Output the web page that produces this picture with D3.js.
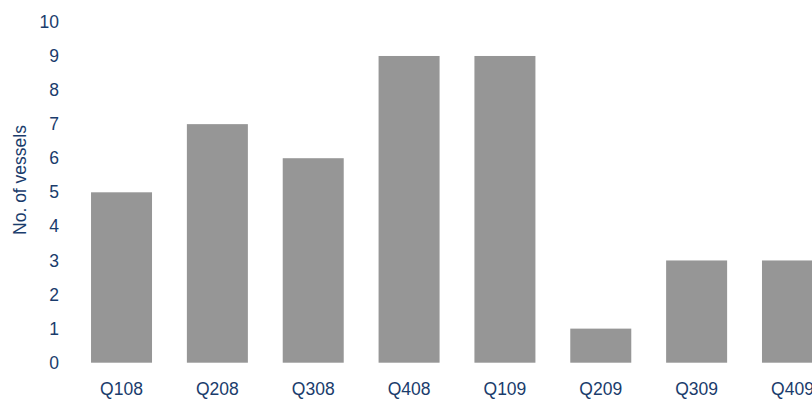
<!DOCTYPE html>
<html>
<head>
<meta charset="utf-8">
<script src="https://cdn.jsdelivr.net/npm/d3@7"></script>
<style>
  body { margin: 0; background: #fff; }
  svg { display: block; }
  text { font-family: "Liberation Sans", Arial, sans-serif; fill: #1a3c6c; }
</style>
</head>
<body>
<svg id="chart" width="812" height="400"></svg>
<script>
// quarters and vessel counts
const quarters = ["Q108", "Q208", "Q308", "Q408", "Q109", "Q209", "Q309", "Q409"];
const vessels = [5, 7, 6, 9, 9, 1, 3, 3];
const yTicks = [0, 1, 2, 3, 4, 5, 6, 7, 8, 9, 10];

const svg = d3.select("#chart");

// the chart runs past the right edge of the window, like the original
var x = d3
  .scaleBand()
  .domain(quarters)
  .range([73.6, 840.4])
  .paddingInner(0.3636)
  .paddingOuter(0.1818);

var y = d3.scaleLinear().domain([0, 10]).range([362.7, 21.9]);

// bars
svg
  .append("g")
  .selectAll("rect")
  .data(quarters)
  .join("rect")
  .attr("x", (d) => x(d))
  .attr("width", x.bandwidth())
  .attr("y", (d, i) => y(vessels[i]))
  .attr("height", (d, i) => y(0) - y(vessels[i]))
  .style("fill", "#969696");

// y axis: labels only, no line or tick marks
var yAxis = svg
  .append("g")
  .attr("transform", "translate(59,0)")
  .call(d3.axisLeft(y).tickValues(yTicks).tickSize(0).tickPadding(0));
yAxis.select(".domain").remove();
yAxis
  .selectAll("text")
  .attr("font-size", "17.5px")
  .attr("font-family", null)
  .attr("dy", "0.32em");

// x axis labels
var xAxis = svg
  .append("g")
  .attr("transform", "translate(0,383)")
  .call(d3.axisBottom(x).tickSize(0).tickPadding(0));
xAxis.select(".domain").remove();
xAxis
  .selectAll("text")
  .attr("font-size", "17.5px")
  .attr("font-family", null)
  .attr("dy", "0.71em");

// axis title
svg
  .append("text")
  .attr("transform", "translate(26,180) rotate(-90)")
  .attr("text-anchor", "middle")
  .attr("font-size", "17.5px")
  .text("No. of vessels");
</script>
</body>
</html>
